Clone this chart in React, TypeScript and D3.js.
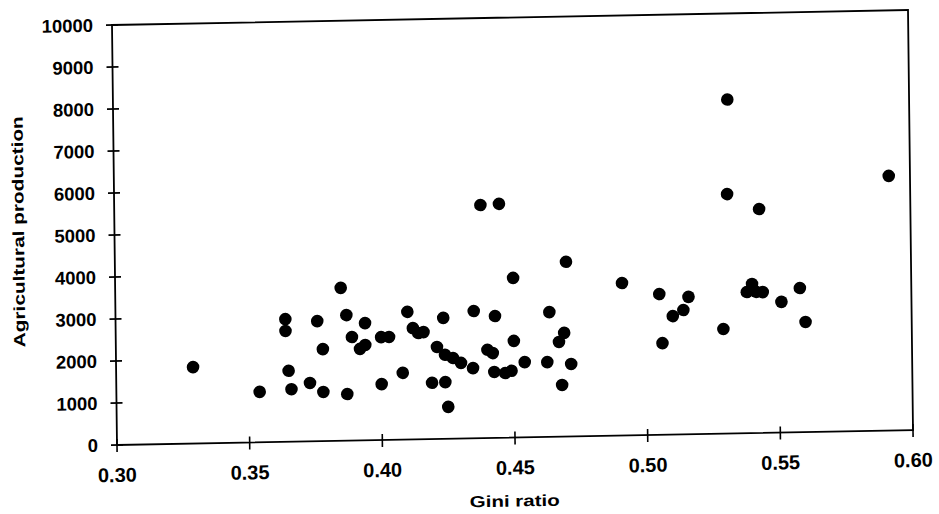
import { useMemo } from "react";
import * as d3 from "d3";

// Gini ratio (x) and agricultural production (y)
const gini = [
  0.329, 0.354, 0.364, 0.364, 0.365, 0.366, 0.373, 0.376, 0.378, 0.378,
  0.385, 0.387, 0.387, 0.389, 0.392, 0.394, 0.394, 0.400, 0.403, 0.400,
  0.408, 0.410, 0.412, 0.414, 0.416, 0.419, 0.4235, 0.424, 0.421, 0.424,
  0.425, 0.427, 0.430, 0.4345, 0.435, 0.438, 0.445, 0.440, 0.442, 0.4425,
  0.443, 0.4466, 0.449, 0.450, 0.450, 0.454, 0.4625, 0.4635, 0.467, 0.469,
  0.468, 0.4715, 0.470, 0.491, 0.505, 0.506, 0.510, 0.514, 0.516, 0.529,
  0.5315, 0.531, 0.543, 0.538, 0.540, 0.5415, 0.544, 0.551, 0.558, 0.560,
  0.592,
];
const production = [
  1820, 1200, 2920, 2640, 1690, 1250, 1390, 2860, 2190, 1170,
  3640, 2990, 1110, 2465, 2180, 2270, 2790, 2450, 2450, 1330,
  1590, 3040, 2650, 2530, 2550, 1340, 2880, 1350, 2190, 2000,
  760, 1920, 1800, 1670, 3030, 5550, 5570, 2100, 2020, 1570,
  2900, 1540, 1590, 2300, 3800, 1790, 1780, 2970, 2255, 2470,
  1230, 1725, 4160, 3630, 3350, 2180, 2820, 2960, 3270, 2490,
  7950, 5700, 5330, 3360, 3550, 3360, 3350, 3110, 3430, 2620,
  6060,
];

const xTicks = [0.3, 0.35, 0.4, 0.45, 0.5, 0.55, 0.6];
const yTicks = [0, 1000, 2000, 3000, 4000, 5000, 6000, 7000, 8000, 9000, 10000];

const ORIGIN = { x: 117, y: 445 };
const PLOT_W = 796;
const PLOT_H = 420;
// the scan is slightly skewed, so the whole plot gets the same small tilt
const SKEW = "matrix(1,-0.0188,0.0119,1,0,0)";
const FONT = "'Liberation Sans', Arial, Helvetica, sans-serif";

const App = () => {
  const xScale = useMemo(() => d3.scaleLinear().domain([0.3, 0.6]).range([0, PLOT_W]), []);
  const yScale = useMemo(() => d3.scaleLinear().domain([0, 10000]).range([0, -PLOT_H]), []);

  const points = gini.map((g, i) => ({ g, p: production[i] }));

  return (
    <svg
      width={939}
      height={514}
      style={{ position: "absolute", left: 0, top: 0, background: "#fff" }}
      fontFamily={FONT}
    >
      <g transform={`translate(${ORIGIN.x},${ORIGIN.y}) ${SKEW}`}>
        <rect x={0} y={-PLOT_H} width={PLOT_W} height={PLOT_H} fill="none" stroke="#000" strokeWidth={1.8} />

        {yTicks.map((t) => (
          <g key={t} transform={`translate(0,${yScale(t)})`}>
            <line x1={-6} x2={6} stroke="#000" strokeWidth={1.6} />
            <text x={-19} y={6.5} textAnchor="end" fontSize={18.5} fontWeight="bold">
              {t}
            </text>
          </g>
        ))}

        {xTicks.map((t) => (
          <g key={t} transform={`translate(${xScale(t)},0)`}>
            <line y1={-6} y2={7} stroke="#000" strokeWidth={1.6} />
            <text y={37} textAnchor="middle" fontSize={20} fontWeight="bold">
              {d3.format(".2f")(t)}
            </text>
          </g>
        ))}

        {points.map((d, i) => (
          <circle key={i} cx={xScale(d.g)} cy={yScale(d.p)} r={6.3} fill="#000" />
        ))}

        <text
          x={397}
          y={69}
          textAnchor="middle"
          fontSize={16}
          fontWeight="bold"
          textLength={90}
          lengthAdjust="spacingAndGlyphs"
        >
          Gini ratio
        </text>

        <text
          transform="translate(-90.5,-215) rotate(-90)"
          textAnchor="middle"
          fontSize={16}
          fontWeight="bold"
          textLength={231}
          lengthAdjust="spacingAndGlyphs"
        >
          Agricultural production
        </text>
      </g>
    </svg>
  );
};

export default App;
